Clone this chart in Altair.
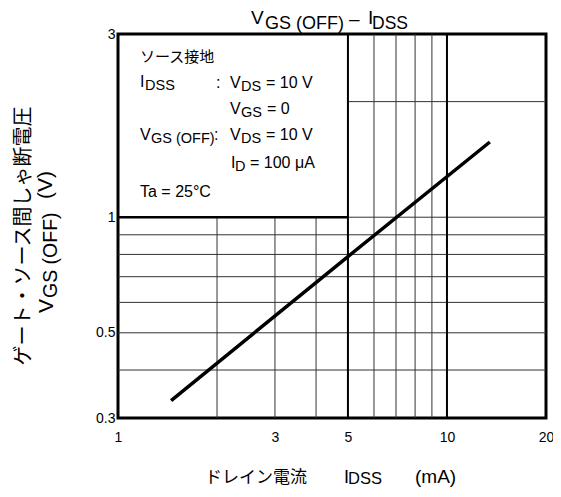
import altair as alt
import pandas as pd

# ---- data ----
idss = [1.45, 5.0, 13.5]          # mA
vgs_off = [0.333, 0.79, 1.57]     # V

x_ticks = [1, 3, 5, 10, 20]
y_ticks = [0.3, 0.5, 1, 3]

grid_x_low = [2, 3, 4]                    # from 0.3 up to 1 (below the note box)
grid_x_thin = [6, 7, 8, 9]                # full height
grid_x_bold = [5, 10]                     # full height, heavier
grid_y_full = [0.4, 0.5, 0.6, 0.7, 0.8, 0.9]
grid_y_right = [1, 2]                     # from 5 to 20 (right of the note box)

X_MIN, X_MAX = 1, 20
Y_MIN, Y_MAX = 0.3, 3
BOX_X, BOX_Y = 5, 1

LAT = "Liberation Sans"
JP = "Noto Sans CJK JP"

xscale = alt.Scale(type="log", domain=[X_MIN, X_MAX], nice=False)
yscale = alt.Scale(type="log", domain=[Y_MIN, Y_MAX], nice=False)

W, H = 428, 384
OX, OY = 118, 34

axis_common = dict(grid=False, domain=False, ticks=False, tickSize=0, title=None,
                   labelFont=LAT, labelFontSize=14, labelColor="black", format="~g",
                   labelFlush=False)
xaxis = alt.Axis(values=x_ticks, labelPadding=12, **axis_common)
yaxis = alt.Axis(values=y_ticks, labelPadding=3, **axis_common)

line_df = pd.DataFrame({"x": idss, "y": vgs_off})

vlow = pd.DataFrame({"x": grid_x_low, "y": [Y_MIN] * len(grid_x_low), "y2": [BOX_Y] * len(grid_x_low)})
vthin = pd.DataFrame({"x": grid_x_thin, "y": [Y_MIN] * len(grid_x_thin), "y2": [Y_MAX] * len(grid_x_thin)})
vbold = pd.DataFrame({"x": grid_x_bold, "y": [Y_MIN] * len(grid_x_bold), "y2": [Y_MAX] * len(grid_x_bold)})
hfull = pd.DataFrame({"y": grid_y_full, "x": [X_MIN] * len(grid_y_full), "x2": [X_MAX] * len(grid_y_full)})
hright = pd.DataFrame({"y": grid_y_right, "x": [BOX_X] * len(grid_y_right), "x2": [X_MAX] * len(grid_y_right)})
boxb = pd.DataFrame({"y": [BOX_Y], "x": [X_MIN], "x2": [BOX_X]})


def vrule(df, width, color):
    return alt.Chart(df).mark_rule(color=color, strokeWidth=width).encode(
        x=alt.X("x:Q", scale=xscale, axis=xaxis),
        y=alt.Y("y:Q", scale=yscale, axis=yaxis),
        y2="y2:Q",
    )


def hrule(df, width, color):
    return alt.Chart(df).mark_rule(color=color, strokeWidth=width).encode(
        y=alt.Y("y:Q", scale=yscale, axis=yaxis),
        x=alt.X("x:Q", scale=xscale, axis=xaxis),
        x2="x2:Q",
    )


dummy = pd.DataFrame({"d": [0]})


def seg(text, px, py, size, font=LAT, align="left", baseline="alphabetic", angle=0):
    return alt.Chart(dummy).mark_text(
        text=text, font=font, fontSize=size, align=align, baseline=baseline,
        angle=angle, color="black",
    ).encode(x=alt.value(px - OX), y=alt.value(py - OY))


curve = alt.Chart(line_df).mark_line(color="black", strokeWidth=3.5).encode(
    x=alt.X("x:Q", scale=xscale, axis=xaxis),
    y=alt.Y("y:Q", scale=yscale, axis=yaxis),
)

layers = [
    vrule(vlow, 1, "#333"),
    vrule(vthin, 1, "#333"),
    hrule(hfull, 1, "#333"),
    hrule(hright, 1, "#333"),
    vrule(vbold, 2, "black"),
    hrule(boxb, 2.5, "black"),
    curve,
]

# title  V_GS(OFF) – I_DSS
layers += [
    seg("V", 251, 24, 19),
    seg("GS (OFF)", 265, 29, 18),
    seg("–", 349, 19, 19, baseline="middle"),
    seg("I", 368, 24, 19),
    seg("DSS", 372, 29, 17.5),
]

# note box
M, S = 16, 14.5
layers += [
    seg("ソース接地", 140, 62, 15, font=JP),
    seg("I", 140, 87, M), seg("DSS", 145, 90, S), seg(":", 216, 88, M),
    seg("V", 230, 88, M), seg("DS", 241, 91, S), seg("= 10 V", 266, 88, M),
    seg("V", 230, 114, M), seg("GS", 241, 117, S), seg("= 0", 267, 114, M),
    seg("V", 140, 140, M), seg("GS (OFF)", 151, 143, S), seg(":", 214, 140, M),
    seg("V", 230, 140, M), seg("DS", 241, 143, S), seg("= 10 V", 266, 140, M),
    seg("I", 231, 168, M), seg("D", 235, 171, S), seg("= 100 μA", 250, 168, M),
    seg("Ta = 25°C", 140, 197, M),
]

# x axis title
layers += [
    seg("ドレイン電流", 205, 483, 17, font=JP),
    seg("I", 344, 483, 18),
    seg("DSS", 348, 484, 16.5),
    seg("(mA)", 415, 483, 19),
]

# y axis title (rotated)
layers += [
    seg("ゲート・ソース間しゃ断電圧", 24, 236, 20, font=JP, align="center", baseline="middle", angle=270),
    seg("V", 53, 313, 21, angle=270),
    seg("GS (OFF)", 57, 298, 19.5, angle=270),
    seg("(V)", 52, 199, 21, angle=270),
]

chart = alt.layer(*layers).properties(
    width=W, height=H,
    autosize=alt.AutoSizeParams(type="none"),
    padding={"left": 110, "top": 26, "right": 7, "bottom": 71},
).configure_view(stroke="black", strokeWidth=3)

chart.save("out.html", embed_options={"renderer": "svg", "actions": False})
